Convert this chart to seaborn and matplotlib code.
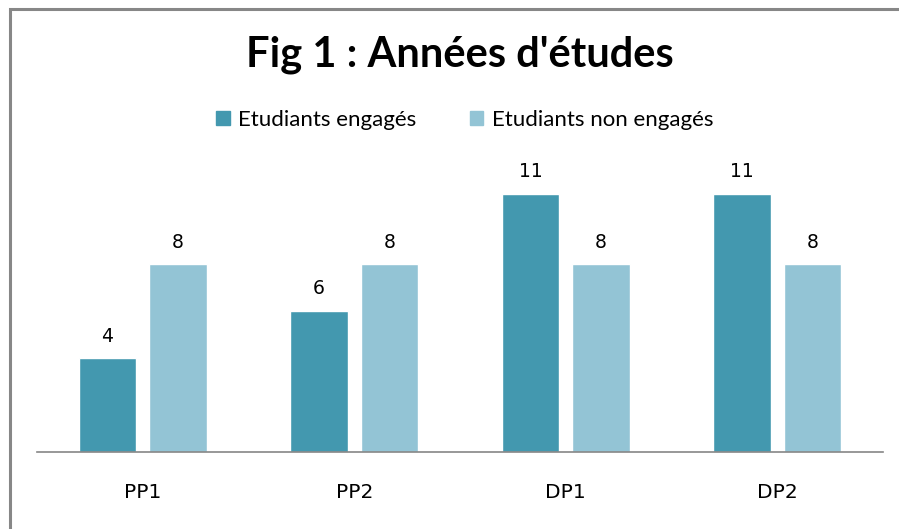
import matplotlib
matplotlib.use("Agg")
import matplotlib.pyplot as plt
import seaborn as sns
import pandas as pd
from matplotlib.patches import Rectangle

annees = ["PP1", "PP2", "DP1", "DP2"]
engages = [4, 6, 11, 11]
non_engages = [8, 8, 8, 8]
series = ["Etudiants engagés", "Etudiants non engagés"]
couleurs = ["#4398AF", "#93C4D5"]

df = pd.DataFrame({
    "annee": annees * 2,
    "n": engages + non_engages,
    "groupe": [series[0]] * 4 + [series[1]] * 4,
})

sns.set_theme(style="white")
plt.rcParams["font.family"] = ["Lato", "DejaVu Sans"]
plt.rcParams["text.color"] = "black"
plt.rcParams["xtick.color"] = "black"

W, H = 899, 529
fig = plt.figure(figsize=(W / 100, H / 100), dpi=100)
ax = fig.add_axes([37 / W, (H - 452) / H, 846 / W, 282 / H])

sns.barplot(data=df, x="annee", y="n", hue="groupe", palette=couleurs,
            width=0.667, gap=0.19, ax=ax, legend=False, saturation=1)

for c in ax.containers:
    ax.bar_label(c, padding=9, fontsize=13.5, color="black",
                 family="DejaVu Sans")

ax.set_xlim(-0.5, 3.5)
ax.set_ylim(0, 12)
ax.set_xlabel("")
ax.set_ylabel("")
ax.set_yticks([])
ax.tick_params(axis="x", length=0, pad=22, labelsize=14.5, labelcolor="black")
for lab in ax.get_xticklabels():
    lab.set_family("DejaVu Sans")
for s in ["top", "right", "left"]:
    ax.spines[s].set_visible(False)
ax.spines["bottom"].set_color("#868686")
ax.spines["bottom"].set_linewidth(1.2)

# legend
handles = [Rectangle((0, 0), 1, 1, color=c) for c in couleurs]
fig.legend(handles, series, loc="center", bbox_to_anchor=(465 / W, 1 - 120 / H),
           ncol=2, frameon=False, fontsize=16, handlelength=0.6, handleheight=0.6,
           handletextpad=0.4, columnspacing=2.4)

fig.text(460 / W, 1 - 55 / H, "Fig 1 : Années d'études", ha="center", va="center",
         fontsize=30, fontweight="bold", color="black")

# chart frame
fig.patches.append(Rectangle((10 / W, -0.1), 2, 1 - 9 / H + 0.1, transform=fig.transFigure,
                             fill=False, edgecolor="#878787", linewidth=2.2))

fig.savefig("out.png", dpi=100)
